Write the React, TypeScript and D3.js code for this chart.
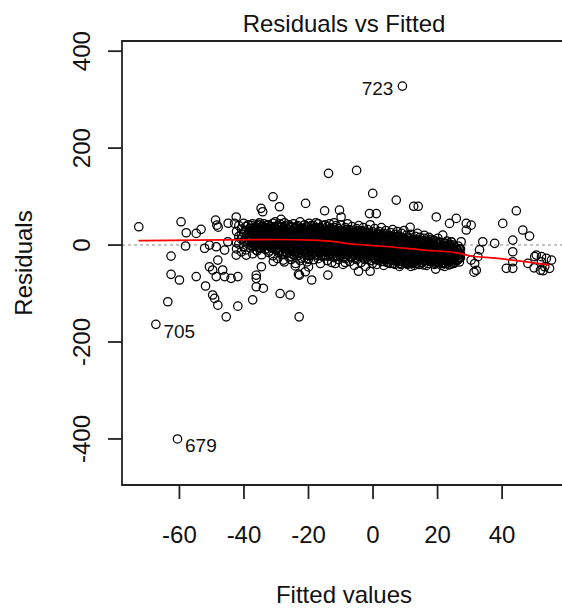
import React from "react";
import * as d3 from "d3";

const W = 562;
const H = 608;

// Plot region (R-style box), axis domains and ticks
const xDomain = [-77.8, 59.8];
const yDomain = [-495, 421];
const xTicks = [-60, -40, -20, 0, 20, 40];
const yTicks = [-400, -200, 0, 200, 400];

// Dense central band, first pass: fitted value of each column and the residuals in it
const clusterFitted = [
  -42.3, -41.6, -40.8, -40.1, -39.4, -38.7, -38.0, -37.3, -36.6, -35.9, -35.2, -34.5, -33.8, -33.1,
  -32.4, -31.7, -31.0, -30.3, -29.6, -28.9, -28.2, -27.5, -26.8, -26.1, -25.4, -24.7, -24.0, -23.3,
  -22.6, -21.9, -21.2, -20.5, -19.8, -19.1, -18.4, -17.7, -17.0, -16.3, -15.6, -14.9, -14.2, -13.5,
  -12.8, -12.1, -11.4, -10.7, -10.0, -9.3, -8.6, -7.9, -7.2, -6.5, -5.8, -5.1, -4.4, -3.7, -3.0,
  -2.3, -1.6, -0.9, -0.2, 0.5, 1.2, 1.9, 2.6, 3.3, 4.0, 4.7, 5.4, 6.1, 6.8, 7.5, 8.2, 8.9, 9.6,
  10.3, 11.0, 11.7, 12.4, 13.1, 13.8, 14.5, 15.2, 15.9, 16.6, 17.3, 18.0, 18.7, 19.4, 20.1, 20.8,
  21.5, 22.2, 22.9, 23.6, 24.3, 25.0, 25.7, 26.4, 27.1,
];
const clusterResiduals = [
  [28, 5, -8], [40, 18, 2], [33, 12, -14, 22], [45, 25, 8, -3], [30, 15, -10, 38],
  [20, 2, 42, 10], [35, 26, -6, 14], [44, 18, 5, -18, 30], [24, 10, 36, -2], [40, 28, 16, 3, -12],
  [32, 20, 8, -5, 46], [38, 26, 12, 0, -20], [22, 30, 6, 44, 15], [35, 18, 10, -8, 27],
  [42, 28, 14, 2, -15, 22], [33, 20, 6, -4, 38], [45, 25, 12, 0, -22, 30], [36, 18, 8, -10, 28, 48],
  [40, 22, 14, 3, -6, -28], [30, 16, 5, -12, 44, 24], [38, 26, 10, -2, -20, 18], [46, 32, 20, 8, -8, -35],
  [35, 22, 12, 0, -16, 28], [42, 28, 16, 4, -10, -25], [30, 20, 9, -4, -30, 38], [44, 34, 18, 6, -8, -20],
  [36, 24, 12, 1, -14, -38], [40, 28, 15, 5, -6, -22], [48, 30, 20, 8, -3, -18, -32], [34, 22, 10, -2, -12, 26],
  [42, 30, 16, 5, -8, -26], [38, 24, 12, 0, -15, -35], [45, 28, 18, 6, -5, -22], [32, 20, 10, -4, -18, 40],
  [40, 26, 14, 2, -10, -30], [36, 22, 8, -6, -20, 46], [44, 30, 16, 4, -12, -28], [34, 20, 10, -2, -16, -38],
  [40, 26, 14, 0, -8, -24], [30, 18, 6, -10, -22, 42], [38, 24, 12, -3, -14, -32], [44, 28, 16, 2, -6, -20],
  [32, 20, 8, -8, -18, -36], [36, 22, 10, -4, -12, -26, 46], [28, 16, 4, -10, -22, 40], [34, 20, 8, -2, -16, -30],
  [42, 26, 12, 0, -8, -24], [30, 18, 6, -6, -18, -40], [36, 22, 10, -2, -12, -28], [26, 14, 2, -10, -20, 44],
  [32, 20, 8, -4, -16, -34], [38, 24, 12, 0, -8, -24], [28, 16, 4, -8, -20, -42], [34, 20, 8, -4, -14, -30],
  [24, 12, 0, -10, -22, 40], [30, 18, 6, -6, -16, -36], [36, 22, 10, -2, -12, -26], [26, 14, 2, -8, -18, -44],
  [32, 18, 6, -4, -14, -30], [20, 8, -2, -12, -24, 42], [28, 16, 4, -6, -18, -38], [34, 20, 8, -2, -10, -26],
  [22, 10, 0, -12, -22, -40], [28, 14, 4, -6, -16, -32], [18, 6, -4, -14, -26, 36], [24, 12, 2, -8, -20, -42],
  [30, 16, 6, -4, -12, -28], [20, 8, -2, -10, -22, -36], [26, 14, 2, -6, -16, -30], [16, 4, -6, -14, -26, 32],
  [22, 10, 0, -10, -20, -40], [28, 12, 2, -8, -16, -30], [18, 6, -4, -12, -24, -44], [24, 10, 0, -8, -18, -34],
  [14, 4, -6, -14, -26, 30], [20, 8, -2, -10, -20, -38], [16, 6, -4, -12, -22, -32], [22, 10, 0, -8, -16, -28, -44],
  [12, 2, -6, -14, -24, -36], [18, 6, -2, -10, -20, -30], [10, 0, -8, -16, -26, 24], [16, 4, -4, -12, -22, -40],
  [8, -2, -10, -18, -28, -36], [14, 4, -6, -14, -24, 20], [10, 0, -8, -16, -26, -42], [6, -4, -12, -20, -30, 16],
  [12, 2, -6, -14, -24, -34], [4, -6, -14, -22, -32, 10], [8, -2, -10, -18, -28, -38], [2, -8, -16, -24, -34, 14],
  [6, -4, -12, -20, -30], [0, -10, -18, -26, -36], [4, -6, -14, -22, -32, -44], [-2, -12, -20, -28, 8],
  [2, -8, -16, -24, -34], [-4, -14, -22, -30, 6], [0, -10, -18, -28, -38], [-6, -16, -24, -32],
  [-2, -12, -20, -30], [-8, -18, -26],
];

// Dense central band, second pass (columns sitting between the first ones)
const clusterFittedB = [
  -38.35, -37.65, -36.95, -36.25, -35.55, -34.85, -34.15, -33.45, -32.75, -32.05, -31.35, -30.65,
  -29.95, -29.25, -28.55, -27.85, -27.15, -26.45, -25.75, -25.05, -24.35, -23.65, -22.95, -22.25,
  -21.55, -20.85, -20.15, -19.45, -18.75, -18.05, -17.35, -16.65, -15.95, -15.25, -14.55, -13.85,
  -13.15, -12.45, -11.75, -11.05, -10.35, -9.65, -8.95, -8.25, -7.55, -6.85, -6.15, -5.45, -4.75,
  -4.05, -3.35, -2.65, -1.95, -1.25, -0.55, 0.15, 0.85, 1.55, 2.25, 2.95, 3.65, 4.35, 5.05, 5.75,
  6.45, 7.15, 7.85, 8.55, 9.25, 9.95, 10.65, 11.35, 12.05, 12.75, 13.45, 14.15, 14.85, 15.55, 16.25,
  16.95, 17.65, 18.35, 19.05, 19.75, 20.45, 21.15, 21.85, 22.55, 23.25, 23.95, 24.65, 25.35, 26.05,
  26.75,
];
const clusterResidualsB = [
  [30, 18, 8, 34, 24], [40, 27, 16, 5, -2],
  [33, 22, 12, 2, 28, 17], [37, 25, 15, 7, -3, 30], [31, 20, 10, 1, 43, 26], [35, 24, 14, 4, -7, 19],
  [39, 28, 17, 9, 0, 33], [32, 21, 11, 3, -9, 25], [36, 26, 16, 7, -1, 41],
  [30, 19, 9, -2, -12, 24], [34, 23, 13, 5, -6, 28], [38, 27, 17, 7, -3, 22], [33, 21, 11, 1, -9, 26],
  [37, 25, 15, 6, -4, -16], [31, 20, 10, 0, -10, 27], [35, 24, 14, 4, -7, -19],
  [39, 28, 18, 8, -2, -13], [32, 21, 11, 2, -8, 25], [36, 25, 15, 5, -5, -17], [30, 19, 9, -1, -11, 23],
  [34, 23, 13, 3, -7, -21], [38, 27, 17, 7, -3, -14], [31, 20, 10, 0, -9, 24],
  [35, 24, 14, 4, -6, -18], [29, 18, 8, -2, -12, 26], [33, 22, 12, 2, -8, -20], [37, 26, 16, 6, -4, -15],
  [30, 19, 9, -1, -11, 23], [34, 23, 13, 3, -7, -19], [28, 17, 7, -3, -13, 25],
  [32, 21, 11, 1, -9, -22], [36, 25, 15, 5, -5, -16], [29, 18, 8, -2, -12, 22], [33, 22, 12, 2, -8, -20],
  [27, 16, 6, -4, -14, 24], [31, 20, 10, 0, -10, -23], [35, 24, 14, 4, -6, -17],
  [28, 17, 7, -3, -13, 21], [32, 21, 11, 1, -9, -24], [26, 15, 5, -5, -15, 23], [30, 19, 9, -1, -11, -21],
  [24, 13, 3, -7, -17, 27], [28, 17, 7, -3, -13, -25], [32, 21, 11, 1, -9, -19],
  [25, 14, 4, -6, -16, 20], [29, 18, 8, -2, -12, -26], [23, 12, 2, -8, -18, 26], [27, 16, 6, -4, -14, -28],
  [21, 10, 0, -10, -20, 30], [25, 14, 4, -6, -16, -24], [19, 8, -2, -12, -22, 28],
  [23, 12, 2, -8, -18, -30], [27, 16, 6, -4, -14, -24], [17, 6, -4, -14, -24, 25], [21, 10, 0, -10, -20, -32],
  [15, 4, -6, -16, -26, 24], [19, 8, -2, -12, -22, -30], [23, 12, 2, -8, -18, -28],
  [13, 2, -8, -18, -28, 22], [17, 6, -4, -14, -24, -34], [11, 0, -10, -20, -30, 20], [15, 4, -6, -16, -26, -36],
  [19, 8, -2, -12, -22, -30], [9, -2, -12, -22, -32, 18], [13, 2, -8, -18, -28, -38],
  [17, 6, -4, -14, -24, -33], [7, -4, -14, -24, -34, 16], [11, 0, -10, -20, -30, -40], [15, 4, -6, -16, -26, -35],
  [5, -6, -16, -26, -36, 12], [9, -2, -12, -22, -32, -40], [13, 2, -8, -18, -28, -37],
  [3, -8, -18, -28, -38, 10], [7, -4, -14, -24, -34, -42], [11, 0, -10, -20, -30, -38], [1, -10, -20, -30, -40, 8],
  [5, -6, -16, -26, -36], [9, -2, -12, -22, -32, -41], [-1, -12, -22, -32, 6],
  [3, -8, -18, -28, -38], [7, -4, -14, -24, -34], [-3, -14, -24, -34, 4], [1, -10, -20, -30, -40],
  [5, -6, -16, -26, -36], [-5, -16, -26, -36, 2], [-1, -12, -22, -32, -42],
  [3, -8, -18, -28, -38], [-7, -18, -28, -38], [-3, -14, -24, -34, 0], [1, -10, -20, -30, -40],
  [-9, -20, -30, -38], [-5, -16, -26, -36], [-11, -22, -32],
  [-7, -17, -27, -35],
];

// Sparse points on the left (low fitted values)
const leftTail: [number, number][] = [
  [-72.6, 37.7], [-59.5, 48], [-57.9, 25.4], [-58.1, -2], [-62.6, -22.7], [-54.8, 24], [-53.3, 32.4],
  [-62.6, -60.4], [-60, -72], [-63.6, -117], [-54.8, -65], [-51.9, -84.5], [-50.7, -44.7], [-49.7, -51.5],
  [-48.1, -31], [-48.6, -65], [-46.6, -51.5], [-46, -65], [-44, -68.7], [-41.9, -65], [-48.8, 51.5],
  [-48.4, 41], [-42.4, 58], [-42.9, 44.7], [-49.7, -103], [-49.1, -110], [-48.1, -124], [-45.5, -148],
  [-41.9, -126], [-37.3, -113], [-36.2, -86], [-34, -89], [-36.2, -68.7], [-34.6, -44.7], [-52.2, -6.8],
  [-50.7, 0], [-48.6, -3.5], [-46, -10.3], [-45, 6.8], [-42.4, -20.6], [-39.3, -20.6], [-36.2, -10.3],
  [-48, 37], [-44.9, 45], [-36.2, -62],
];

// Sparse points below the central band
const lowerScatter: [number, number][] = [
  [-28.8, -100], [-25.7, -103], [-22.9, -148], [-14, -62], [-23.1, -60], [-21, -55], [-19, -72],
  [-20, -45], [-24.1, -43], [-22.1, -27], [-20, -29], [-30.9, -34], [-27.8, -31], [-25.2, -24],
  [-4.5, -54], [-0.9, -54], [-11.7, -38], [-8.6, -36], [5.3, -38], [8.4, -38], [-22.8, -62],
];

// Sparse points above the central band
const upperScatter: [number, number][] = [
  [-34.7, 75.7], [-34.2, 68.7], [-31, 99.6], [-29, 79], [-28.5, 53], [-20.9, 86], [-13.8, 148],
  [-5.1, 154], [-15, 70.7], [-10.4, 72], [-9.9, 58], [-0.1, 106.6], [-1.1, 65], [1, 65], [7.2, 92.8],
  [12.6, 80], [11.5, 36.5],
];

// Sparse points on the right (high fitted values)
const rightTail: [number, number][] = [
  [14, 80], [19.6, 58], [23.7, 44.7], [25.8, 55], [28.9, 44.7], [30.4, 41], [28.9, 31], [21.6, 20.6],
  [24.2, 6.8], [27.3, 6.8], [34, 6.8], [37.7, 3.5], [33, -10], [32.5, -24], [31.5, -38], [32, -52],
  [30.4, -31], [40.2, 44.7], [44.4, 70.7], [46.4, 31], [48.5, 18.5], [43.3, 10.3], [43.3, -13.8],
  [43.3, -34.4], [43.3, -48], [41.3, -48], [50.6, -20.6], [53.7, -27.5], [55.3, -31], [52.2, -34.4],
  [53.2, -44.7], [52.7, -53], [54.7, -48], [48, -37.8], [50.1, -24], [52.2, -24], [19.4, -49.5],
  [23.5, -41], [31.3, -56], [49.9, -47], [51.9, -52],
];

// Observations flagged with their index
const idLabels = ["723", "705", "679"];
const idFitted = [9.1, -67.3, -60.6];
const idResiduals = [328, -163.5, -400];

// Smoothed trend of residuals against fitted values
const smoothFitted = [-72.7, -55, -40, -30, -19, -12, -6.5, -2, 5, 15, 26, 30, 38, 44.5, 54.7];
const smoothResiduals = [9, 10, 11, 11.5, 10, 7, 2, 0, -3.5, -10, -16, -22, -27, -32, -41];

const FONT = "'Liberation Sans', Arial, Helvetica, sans-serif";

export default function App() {
  const left = 122;
  const right = 566;
  const top = 41;
  const bottom = 485;

  const x = d3.scaleLinear().domain(xDomain).range([left, right]);
  const y = d3.scaleLinear().domain(yDomain).range([bottom, top]);

  const columnsToPoints = (fitted: number[], resid: number[][]): [number, number][] =>
    fitted.flatMap((f, i) => (resid[i] ?? []).map((r) => [f, r] as [number, number]));

  const idPoints: [number, number][] = idFitted.map((f, i) => [f, idResiduals[i]]);
  const points = [
    ...leftTail,
    ...columnsToPoints(clusterFitted, clusterResiduals),
    ...columnsToPoints(clusterFittedB, clusterResidualsB),
    ...lowerScatter,
    ...upperScatter,
    ...rightTail,
    ...idPoints,
  ];

  const smoothLine = d3
    .line<number>()
    .x((_, i) => x(smoothFitted[i]))
    .y((d) => y(d))
    .curve(d3.curveMonotoneX)(smoothResiduals);

  const xMid = (left + right) / 2;
  const yMid = (top + bottom) / 2;
  const axisColor = "#222";
  const xCenter = d3.mean(xDomain) as number;

  return (
    <svg
      width={W}
      height={H}
      style={{ position: "absolute", left: 0, top: 0, background: "#fff" }}
      fontFamily={FONT}
    >
      <rect x={0} y={0} width={W} height={H} fill="#fff" />
      <defs>
        <clipPath id="plotArea">
          <rect x={left} y={top} width={right - left} height={bottom - top} />
        </clipPath>
      </defs>

      {/* zero reference line */}
      <line
        x1={left}
        x2={right}
        y1={y(0)}
        y2={y(0)}
        stroke="#b0b0b0"
        strokeWidth={1.4}
        strokeDasharray="3 3"
      />

      {/* observations */}
      <g fill="none" stroke="#000" strokeWidth={1.25} clipPath="url(#plotArea)">
        {points.map(([f, r], i) => (
          <circle key={i} cx={x(f)} cy={y(r)} r={4.2} />
        ))}
      </g>

      {/* smoother */}
      <path d={smoothLine ?? ""} fill="none" stroke="#ff0000" strokeWidth={1.7} />

      {/* index labels */}
      <g fontSize={19} fill="#111">
        {idLabels.map((lab, i) => {
          const onRight = idFitted[i] > xCenter;
          const cx = x(idFitted[i]);
          const cy = y(idResiduals[i]);
          return (
            <text
              key={lab}
              x={onRight ? cx - 9 : cx + 7.5}
              y={onRight ? cy + 8.5 : cy + 13.5}
              textAnchor={onRight ? "end" : "start"}
            >
              {lab}
            </text>
          );
        })}
      </g>

      {/* box */}
      <path
        d={`M${right},${top}H${left}V${bottom}H${right}`}
        fill="none"
        stroke={axisColor}
        strokeWidth={1.8}
      />

      {/* x axis */}
      <g stroke={axisColor} strokeWidth={1.8}>
        {xTicks.map((t) => (
          <line key={t} x1={x(t)} x2={x(t)} y1={bottom} y2={bottom + 14} />
        ))}
      </g>
      <g fontSize={24} fill="#111" textAnchor="middle">
        {xTicks.map((t) => (
          <text key={t} x={x(t)} y={543}>
            {t}
          </text>
        ))}
      </g>

      {/* y axis */}
      <g stroke={axisColor} strokeWidth={1.8}>
        {yTicks.map((t) => (
          <line key={t} x1={left - 14} x2={left} y1={y(t)} y2={y(t)} />
        ))}
      </g>
      <g fontSize={24} fill="#111" textAnchor="middle">
        {yTicks.map((t) => (
          <text key={t} transform={`translate(90,${y(t)}) rotate(-90)`}>
            {t}
          </text>
        ))}
      </g>

      {/* titles */}
      <text x={xMid} y={32} fontSize={24} textAnchor="middle" fill="#111">
        Residuals vs Fitted
      </text>
      <text x={xMid} y={603} fontSize={24} textAnchor="middle" fill="#111">
        Fitted values
      </text>
      <text transform={`translate(32,${yMid}) rotate(-90)`} fontSize={24} textAnchor="middle" fill="#111">
        Residuals
      </text>
    </svg>
  );
}
